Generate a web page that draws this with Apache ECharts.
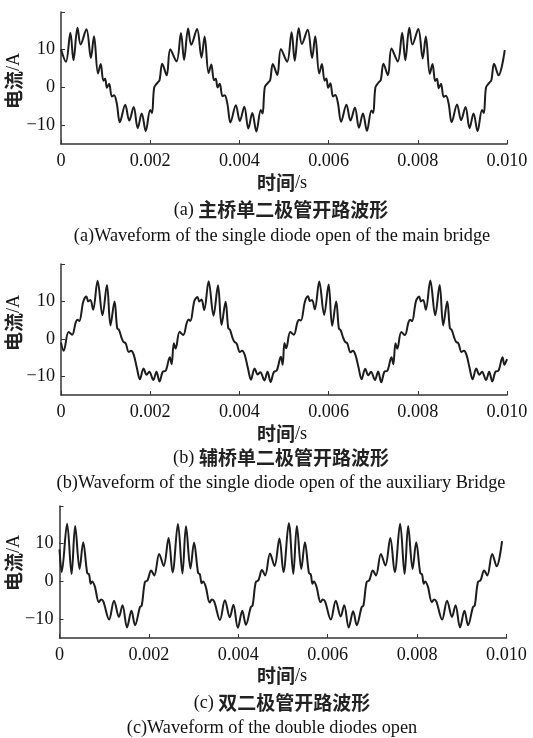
<!DOCTYPE html>
<html>
<head>
<meta charset="utf-8">
<script src="https://cdn.jsdelivr.net/npm/echarts@6/dist/echarts.min.js"></script>
<style>html,body{margin:0;padding:0;background:#fff}#c{width:533px;height:738px}</style>
</head>
<body>
<div id="c"></div>
<script>
// time in ms (axis labelled in s), current in A
const xTickLabels = ['0', '0.002', '0.004', '0.006', '0.008', '0.010'];
const yTickValues = [-10, 0, 10, 20];
const yLabelValues = [-10, 0, 10];
const yTickLabels = ['\u221210', '0', '10'];

const waveA = [
[0,10.1],[0.11,6.8],[0.21,14.5],[0.28,7.2],[0.37,15.8],[0.44,11.4],[0.57,15.4],[0.67,7.8],[0.74,13.6],[0.83,3.7],[0.89,6.2],[0.95,1.8],[0.99,2.3],[1.03,-0.1],[1.08,1.0],[1.14,-2.4],[1.19,-2.1],[1.25,-4.2],[1.32,-9.2],[1.44,-4.6],[1.53,-8.8],[1.63,-5.2],[1.72,-10.8],[1.81,-6.9],[1.90,-11.6],[2.00,-6.0],[2.04,-6.8],[2.09,0.0],[2.16,1.2],[2.21,2.0],[2.27,6.3],[2.37,3.2],
[2.45,10.1],[2.59,6.9],[2.69,14.4],[2.76,7.3],[2.85,15.6],[2.92,11.3],[3.05,15.5],[3.15,7.9],[3.22,13.5],[3.31,3.8],[3.37,6.1],[3.43,1.9],[3.47,2.3],[3.51,0.0],[3.56,1.0],[3.62,-2.3],[3.67,-2.1],[3.73,-4.3],[3.80,-9.3],[3.92,-4.7],[4.01,-8.9],[4.11,-5.1],[4.20,-10.9],[4.29,-6.8],[4.38,-11.7],[4.48,-6.0],[4.52,-6.9],[4.57,0.1],[4.64,1.2],[4.69,2.0],[4.75,6.2],[4.85,3.3],
[4.93,10.2],[5.07,6.8],[5.17,14.6],[5.24,7.1],[5.33,15.7],[5.40,11.5],[5.53,15.3],[5.63,7.8],[5.70,13.6],[5.79,3.7],[5.85,6.2],[5.91,1.8],[5.95,2.4],[5.99,-0.1],[6.04,1.1],[6.10,-2.4],[6.15,-2.0],[6.21,-4.2],[6.28,-9.1],[6.40,-4.6],[6.49,-8.8],[6.59,-5.3],[6.68,-10.7],[6.77,-6.9],[6.86,-11.5],[6.96,-6.1],[7.00,-6.8],[7.05,0.0],[7.12,1.3],[7.17,2.0],[7.23,6.3],[7.33,3.2],
[7.41,10.3],[7.55,6.9],[7.65,14.5],[7.72,7.2],[7.81,15.8],[7.88,11.4],[8.01,15.5],[8.11,7.7],[8.18,13.5],[8.27,3.6],[8.33,6.2],[8.39,1.7],[8.43,2.3],[8.47,-0.2],[8.52,1.0],[8.58,-2.5],[8.63,-2.2],[8.69,-4.2],[8.76,-9.2],[8.88,-4.5],[8.97,-8.7],[9.07,-5.2],[9.16,-10.8],[9.25,-6.9],[9.34,-11.6],[9.44,-6.0],[9.48,-6.8],[9.53,0.0],[9.60,1.2],[9.65,2.0],[9.71,6.3],[9.81,3.2],[9.95,9.9]
];

const waveB = [
[0,-1.0],[0.06,-3.2],[0.17,1.8],[0.25,1.1],[0.33,4.4],[0.37,5.1],[0.41,4.8],[0.50,10.0],[0.57,11.3],[0.61,10.0],[0.66,10.4],[0.72,7.8],[0.82,15.5],[0.93,6.3],[1.03,14.4],[1.11,3.6],[1.20,10.0],[1.26,2.8],[1.30,2.4],[1.36,0.2],[1.40,-0.8],[1.45,-1.2],[1.52,-3.5],[1.57,-3.2],[1.63,-4.2],[1.70,-7.7],[1.77,-10.8],[1.85,-7.9],[1.92,-9.6],[1.98,-8.8],[2.07,-11.0],[2.14,-8.8],[2.21,-11.4],[2.28,-8.8],[2.35,-8.5],[2.44,-4.9],[2.48,-6.8],
[2.53,-1.2],[2.57,-2.6],[2.66,1.9],[2.74,1.0],[2.82,4.3],[2.86,5.2],[2.90,4.8],[2.99,10.1],[3.06,11.2],[3.10,10.0],[3.15,10.5],[3.21,7.7],[3.31,15.4],[3.42,6.2],[3.52,14.3],[3.60,3.7],[3.69,9.9],[3.75,2.9],[3.79,2.4],[3.85,0.1],[3.89,-0.8],[3.94,-1.3],[4.01,-3.5],[4.06,-3.2],[4.12,-4.3],[4.19,-7.8],[4.26,-10.9],[4.34,-7.9],[4.41,-9.5],[4.47,-8.9],[4.56,-11.1],[4.63,-8.8],[4.70,-11.5],[4.77,-8.9],[4.84,-8.4],[4.93,-4.8],[4.97,-6.9],
[5.01,-1.1],[5.05,-2.5],[5.14,1.8],[5.22,1.1],[5.30,4.4],[5.34,5.1],[5.38,4.9],[5.47,10.0],[5.54,11.4],[5.58,10.1],[5.63,10.4],[5.69,7.9],[5.79,15.3],[5.90,6.4],[6.00,14.5],[6.08,3.5],[6.17,10.0],[6.23,2.8],[6.27,2.3],[6.33,0.2],[6.37,-0.8],[6.42,-1.2],[6.49,-3.6],[6.54,-3.2],[6.60,-4.2],[6.67,-7.6],[6.74,-10.8],[6.82,-8.0],[6.89,-9.7],[6.95,-8.8],[7.04,-11.0],[7.11,-8.7],[7.18,-11.6],[7.25,-8.8],[7.32,-8.5],[7.41,-4.9],[7.45,-6.8],
[7.50,-1.2],[7.54,-2.6],[7.63,1.8],[7.71,1.0],[7.79,4.4],[7.83,5.1],[7.87,4.7],[7.96,10.1],[8.03,11.3],[8.07,10.0],[8.12,10.4],[8.18,7.8],[8.28,15.6],[8.39,6.3],[8.49,14.4],[8.57,3.6],[8.66,10.0],[8.72,2.8],[8.76,2.4],[8.82,0.2],[8.86,-0.8],[8.91,-1.2],[8.98,-3.5],[9.03,-3.2],[9.09,-4.2],[9.16,-7.7],[9.23,-10.8],[9.31,-7.9],[9.38,-9.6],[9.44,-8.8],[9.53,-11.0],[9.60,-8.8],[9.67,-11.4],[9.74,-8.8],[9.81,-8.5],[9.90,-4.9],[9.94,-6.9],[10.0,-5.4]
];

const waveC = [
[0,8.5],[0.05,2.5],[0.17,15.3],[0.27,2.0],[0.35,14.7],[0.45,3.3],[0.53,10.4],[0.62,2.2],[0.66,1.9],[0.70,-0.6],[0.73,0.0],[0.79,-1.3],[0.88,-5.5],[0.93,-4.8],[0.98,-5.3],[1.11,-10.1],[1.22,-5.1],[1.33,-9.4],[1.41,-6.3],[1.51,-12.2],[1.61,-7.8],[1.69,-11.6],[1.80,-6.8],[1.84,-6.4],[1.91,-0.2],[1.97,0.3],[2.05,2.9],[2.12,1.6],[2.23,7.3],[2.33,4.1],[2.44,11.5],
[2.53,2.4],[2.65,15.2],[2.75,2.1],[2.83,14.6],[2.93,3.4],[3.01,10.3],[3.10,2.3],[3.14,1.9],[3.18,-0.5],[3.21,0.0],[3.27,-1.3],[3.36,-5.6],[3.41,-4.8],[3.46,-5.3],[3.59,-10.2],[3.70,-5.0],[3.81,-9.5],[3.89,-6.2],[3.99,-12.3],[4.09,-7.8],[4.17,-11.5],[4.28,-6.8],[4.32,-6.4],[4.39,-0.2],[4.45,0.3],[4.53,3.0],[4.60,1.6],[4.71,7.4],[4.81,4.1],[4.92,11.4],
[5.01,2.5],[5.13,15.4],[5.23,2.0],[5.31,14.7],[5.41,3.3],[5.49,10.4],[5.58,2.2],[5.62,1.9],[5.66,-0.6],[5.69,0.0],[5.75,-1.4],[5.84,-5.5],[5.89,-4.8],[5.94,-5.3],[6.07,-10.1],[6.18,-5.1],[6.29,-9.3],[6.37,-6.3],[6.47,-12.2],[6.57,-7.9],[6.65,-11.6],[6.76,-6.8],[6.80,-6.4],[6.87,-0.2],[6.93,0.3],[7.01,2.9],[7.08,1.6],[7.19,7.3],[7.29,4.2],[7.40,11.5],
[7.50,2.5],[7.62,15.3],[7.72,2.0],[7.80,14.7],[7.90,3.3],[7.98,10.4],[8.07,2.2],[8.11,1.9],[8.15,-0.6],[8.18,0.0],[8.24,-1.3],[8.33,-5.5],[8.38,-4.8],[8.43,-5.3],[8.56,-10.1],[8.67,-5.1],[8.78,-9.4],[8.86,-6.3],[8.96,-12.2],[9.06,-7.8],[9.14,-11.6],[9.25,-6.8],[9.29,-6.4],[9.36,-0.2],[9.42,0.3],[9.50,2.9],[9.57,1.6],[9.68,7.3],[9.78,4.0],[9.90,10.7]
];

const yName = '电流';
const xName = '时间';
const captionsCn = [['(a) ', '主桥单二极管开路波形'], ['(b) ', '辅桥单二极管开路波形'], ['(c) ', '双二极管开路波形']];
const captionsEn = ['(a)Waveform of the single diode open of the main bridge',
                    '(b)Waveform of the single diode open of the auxiliary Bridge',
                    '(c)Waveform of the double diodes open'];

const SERIF = '"Liberation Serif","Times New Roman",serif';
const CJK = '"Noto Sans CJK SC","Noto Sans",sans-serif';

const grids = [
  {left: 61, top: 12, width: 446, height: 132},
  {left: 61, top: 264, width: 446, height: 131},
  {left: 59.5, top: 506, width: 447, height: 132}
];
const layout = [
  {yName: [14, 81], xName: [282, 183], cn: [281, 210], en: [282, 236]},
  {yName: [14, 323], xName: [282, 434], cn: [281, 458], en: [281, 483]},
  {yName: [14, 563], xName: [282, 676], cn: [282, 703], en: [272, 728]}
];

const axisColor = '#333';
const xAxes = [], yAxes = [], series = [], graphics = [];
const waves = [waveA, waveB, waveC];
for (let i = 0; i < 3; i++) {
  xAxes.push({
    type: 'value', gridIndex: i, min: 0, max: 10, interval: 2,
    axisLine: {show: true, onZero: false, lineStyle: {color: axisColor, width: 1.5}},
    axisTick: {show: true, inside: true, length: 4, lineStyle: {color: axisColor, width: 1}},
    axisLabel: {margin: 8, fontFamily: SERIF, fontSize: 18.2, color: '#111',
      formatter: v => xTickLabels[Math.round(v / 2)]},
    splitLine: {show: false}
  });
  yAxes.push({
    type: 'value', gridIndex: i, min: -15, max: 20,
    axisLine: {show: true, onZero: false, lineStyle: {color: axisColor, width: 1.5}},
    axisTick: {show: true, inside: true, length: 4, customValues: yTickValues, lineStyle: {color: axisColor, width: 1}},
    axisLabel: {margin: 6, fontFamily: SERIF, fontSize: 18.2, color: '#111', customValues: yLabelValues,
      formatter: v => yTickLabels[yLabelValues.indexOf(v)]},
    splitLine: {show: false}
  });
  series.push({
    type: 'line', xAxisIndex: i, yAxisIndex: i, data: waves[i],
    showSymbol: false, smooth: 0.35, clip: false,
    lineStyle: {color: '#1c1c1c', width: 2}
  });
  const L = layout[i];
  graphics.push({
    type: 'text', x: L.yName[0], y: L.yName[1], rotation: Math.PI / 2,
    style: {text: '{c|' + yName + '}{s|/A}', align: 'center', verticalAlign: 'middle',
      rich: {c: {fontFamily: CJK, fontSize: 19, fontWeight: 'bold', fill: '#222'},
             s: {fontFamily: SERIF, fontSize: 18.2, fill: '#111'}}}
  });
  graphics.push({
    type: 'text', x: L.xName[0], y: L.xName[1],
    style: {text: '{c|' + xName + '}{s|/s}', align: 'center', verticalAlign: 'middle',
      rich: {c: {fontFamily: CJK, fontSize: 19, fontWeight: 'bold', fill: '#222'},
             s: {fontFamily: SERIF, fontSize: 18.2, fill: '#111'}}}
  });
  graphics.push({
    type: 'text', x: L.cn[0], y: L.cn[1],
    style: {text: '{s|' + captionsCn[i][0] + '}{c|' + captionsCn[i][1] + '}', align: 'center', verticalAlign: 'middle',
      rich: {c: {fontFamily: CJK, fontSize: 19, fontWeight: 'bold', fill: '#222'},
             s: {fontFamily: SERIF, fontSize: 18.2, fill: '#111'}}}
  });
  graphics.push({
    type: 'text', x: L.en[0], y: L.en[1],
    style: {text: captionsEn[i], align: 'center', verticalAlign: 'middle',
      fontFamily: SERIF, fontSize: 18.3, fill: '#111'}
  });
}

const chart = echarts.init(document.getElementById('c'), null, {renderer: 'canvas'});
chart.setOption({
  animation: false,
  backgroundColor: '#fff',
  grid: grids.map(g => Object.assign({containLabel: false}, g)),
  xAxis: xAxes,
  yAxis: yAxes,
  series: series,
  graphic: graphics
});
</script>
</body>
</html>
